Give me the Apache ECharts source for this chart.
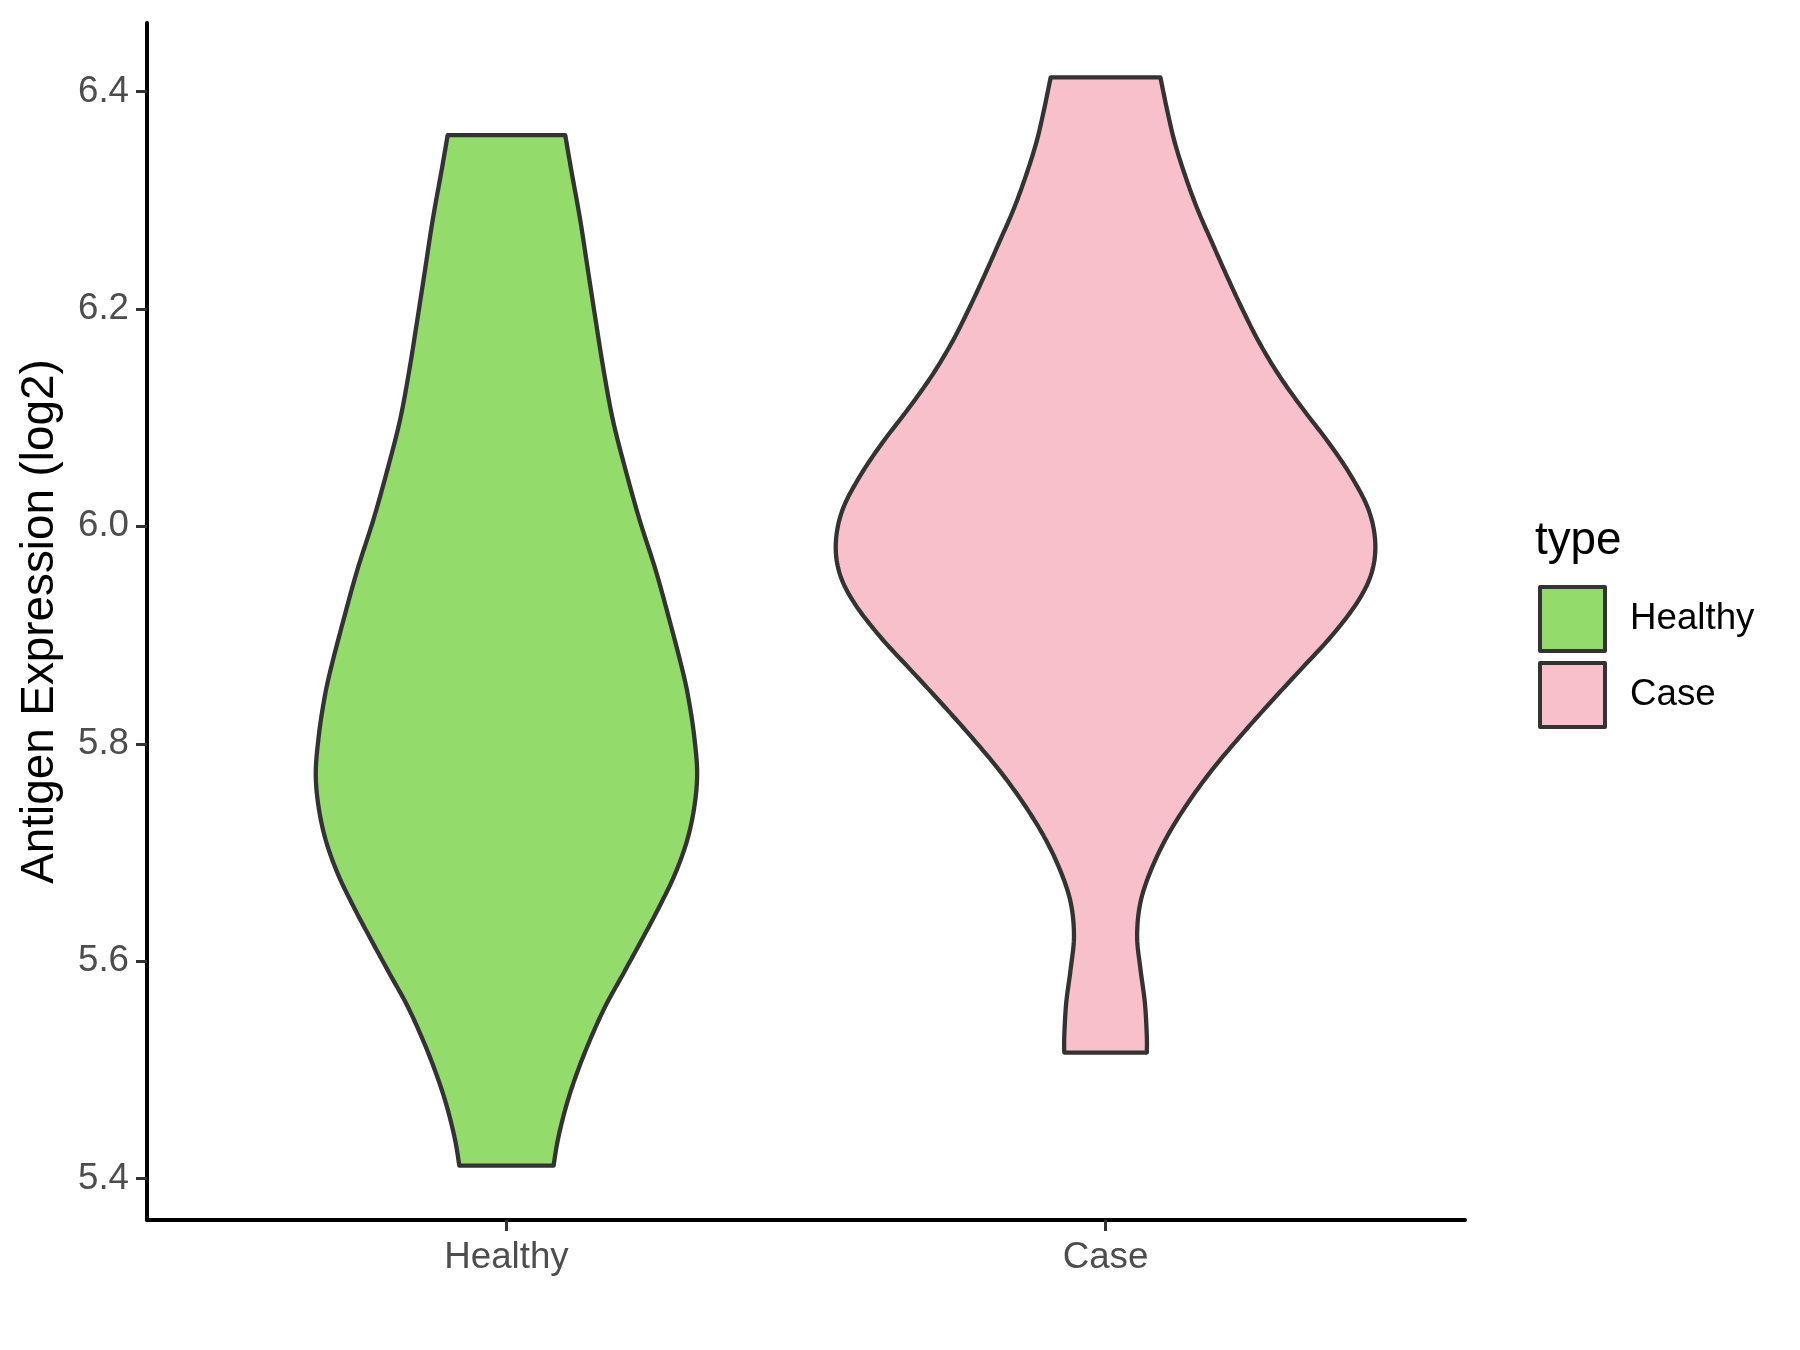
<!DOCTYPE html>
<html><head><meta charset="utf-8">
<script src="https://cdn.jsdelivr.net/npm/echarts@6/dist/echarts.min.js"></script>
<style>html,body{margin:0;padding:0;background:#fff}#c{width:1800px;height:1350px}</style>
</head><body><div id="c"></div>
<script>
// ---- data ----
const categories = ['Healthy', 'Case'];
const yTicks = [5.4, 5.6, 5.8, 6.0, 6.2, 6.4];
// violin profiles: y values (top to bottom) and half-widths (in category units)
const healthyY = [6.360, 6.328, 6.282, 6.236, 6.190, 6.144, 6.098, 6.052, 6.006, 5.960, 5.914, 5.865, 5.835, 5.804, 5.773, 5.743, 5.712, 5.681, 5.651, 5.620, 5.589, 5.559, 5.528, 5.497, 5.467, 5.436, 5.412];
const healthyHalfWidth = [0.0981, 0.1081, 0.1231, 0.1359, 0.1488, 0.1621, 0.1776, 0.1988, 0.2222, 0.2489, 0.2720, 0.2950, 0.3060, 0.3140, 0.3183, 0.3139, 0.3020, 0.2820, 0.2560, 0.2262, 0.1955, 0.1655, 0.1398, 0.1176, 0.0998, 0.0859, 0.0787];
const caseY = [6.413, 6.383, 6.353, 6.322, 6.291, 6.261, 6.230, 6.199, 6.169, 6.138, 6.107, 6.077, 6.046, 6.015, 5.985, 5.957, 5.930, 5.899, 5.868, 5.838, 5.807, 5.776, 5.746, 5.715, 5.684, 5.654, 5.623, 5.593, 5.562, 5.531, 5.516];
const caseHalfWidth = [0.0916, 0.1028, 0.1156, 0.1333, 0.1540, 0.1778, 0.2028, 0.2290, 0.2567, 0.2907, 0.3308, 0.3725, 0.4102, 0.4392, 0.4502, 0.4440, 0.4200, 0.3770, 0.3253, 0.2751, 0.2250, 0.1778, 0.1380, 0.1030, 0.0760, 0.0582, 0.0527, 0.0582, 0.0656, 0.0689, 0.0689];
const fillColors = ['#93DB6A', '#F7C0CB'];

// ---- scales ----
const allY = healthyY.concat(caseY);
const dMin = Math.min(...allY), dMax = Math.max(...allY);
const pad = (dMax - dMin) * 0.05;
const yMin = dMin - pad, yMax = dMax + pad;
const FONT = "'Liberation Sans', Arial, sans-serif";

function smooth(pts, steps) {
  const out = [];
  const n = pts.length;
  for (let i = 0; i < n - 1; i++) {
    const p0 = pts[Math.max(i - 1, 0)], p1 = pts[i], p2 = pts[i + 1], p3 = pts[Math.min(i + 2, n - 1)];
    for (let s = 0; s < steps; s++) {
      const t = s / steps, t2 = t * t, t3 = t2 * t;
      const f = (a, b, c, d) => 0.5 * ((2 * b) + (-a + c) * t + (2 * a - 5 * b + 4 * c - d) * t2 + (-a + 3 * b - 3 * c + d) * t3);
      out.push([f(p0[0], p1[0], p2[0], p3[0]), f(p0[1], p1[1], p2[1], p3[1])]);
    }
  }
  out.push(pts[n - 1]);
  return out;
}

function violinRenderer(ys, ws, center, color) {
  return function (params, api) {
    if (params.dataIndex !== 0) return;
    const left = ys.map((y, i) => api.coord([center - ws[i], y]));
    const right = ys.map((y, i) => api.coord([center + ws[i], y]));
    const L = smooth(left, 12);
    const R = smooth(right, 12).reverse();
    return {
      type: 'polygon',
      shape: { points: L.concat(R) },
      style: { fill: color, stroke: '#333333', lineWidth: 4.3, lineJoin: 'round' }
    };
  };
}

const chart = echarts.init(document.getElementById('c'), null, { renderer: 'canvas' });
chart.setOption({
  backgroundColor: '#ffffff',
  animation: false,
  grid: { left: 147, right: 335, top: 23, bottom: 130 },
  xAxis: {
    type: 'value', min: 0.4, max: 2.6,
    splitLine: { show: false },
    axisLine: { show: true, onZero: false, lineStyle: { color: '#000000', width: 4 } },
    axisTick: { show: true, customValues: [1, 2], length: 11, lineStyle: { color: '#333333', width: 3 } },
    axisLabel: { show: true, customValues: [1, 2], margin: 19, color: '#4D4D4D', fontSize: 36.7, fontFamily: FONT,
      formatter: v => categories[Math.round(v) - 1] }
  },
  yAxis: {
    type: 'value', min: yMin, max: yMax,
    name: 'Antigen Expression (log2)', nameLocation: 'middle', nameGap: 84,
    nameTextStyle: { color: '#000000', fontSize: 45.8, fontFamily: FONT },
    splitLine: { show: false },
    axisLine: { show: true, onZero: false, lineStyle: { color: '#000000', width: 4 } },
    axisTick: { show: true, customValues: yTicks, length: 11, lineStyle: { color: '#333333', width: 3 } },
    axisLabel: { show: true, customValues: yTicks, margin: 18, color: '#4D4D4D', fontSize: 36.7, fontFamily: FONT,
      formatter: v => v.toFixed(1) }
  },
  legend: {
    orient: 'vertical', left: 1538, top: 585, padding: 0,
    itemWidth: 65, itemHeight: 64, itemGap: 8, icon: 'rect', selectedMode: false,
    itemStyle: { borderColor: '#333333', borderWidth: 4, borderJoin: 'round' },
    textStyle: { fontSize: 36.7, color: '#000000', fontFamily: FONT, padding: [0, 0, 0, 20] },
    data: categories
  },
  graphic: [{
    type: 'text', x: 1535, y: 541,
    style: { text: 'type', fill: '#000000', font: "45.8px 'Liberation Sans', Arial, sans-serif", verticalAlign: 'middle', align: 'left' }
  }],
  series: [
    { name: 'Healthy', type: 'custom', itemStyle: { color: fillColors[0] },
      renderItem: violinRenderer(healthyY, healthyHalfWidth, 1, fillColors[0]),
      data: [[1, healthyY[0]]] },
    { name: 'Case', type: 'custom', itemStyle: { color: fillColors[1] },
      renderItem: violinRenderer(caseY, caseHalfWidth, 2, fillColors[1]),
      data: [[2, caseY[0]]] }
  ]
});
</script></body></html>
